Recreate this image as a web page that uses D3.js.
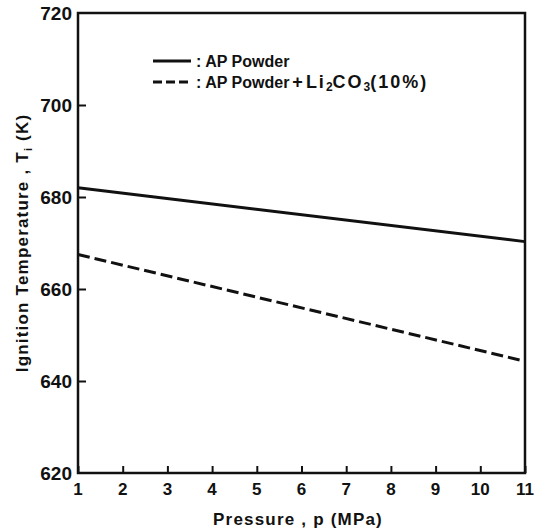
<!DOCTYPE html>
<html>
<head>
<meta charset="utf-8">
<script src="https://cdn.jsdelivr.net/npm/d3@7"></script>
<style>
  body { margin: 0; background: #fff; }
  text { font-family: 'Liberation Sans', Arial, sans-serif; font-weight: bold; fill: #111; }
</style>
</head>
<body>
<script>
var w = 545,
    h = 529;

// Data (pressure in MPa, temperature in K)
var pressure = [1, 11];
var apPowder = [682, 670.3];
var apLi2CO3 = [667.5, 644.3];

var xTicks = [1, 2, 3, 4, 5, 6, 7, 8, 9, 10, 11];
var yTicks = [620, 640, 660, 680, 700, 720];

var margin = {left: 78, right: 20, top: 13, bottom: 56};

var svg = d3.select('body')
            .append('svg')
            .attr('width', w)
            .attr('height', h);

var x = d3.scaleLinear()
          .domain([1, 11])
          .range([margin.left, w - margin.right]);

var y = d3.scaleLinear()
          .domain([620, 720])
          .range([h - margin.bottom, margin.top]);

// frame
svg.append('rect')
   .attr('x', x(1))
   .attr('y', y(720))
   .attr('width', x(11) - x(1))
   .attr('height', y(620) - y(720))
   .style('fill', 'none')
   .style('stroke', '#111')
   .style('stroke-width', 2.5);

// axes, ticks point inward
var xAxis = d3.axisTop(x)
              .tickValues(xTicks)
              .tickSize(7)
              .tickFormat('');

svg.append('g')
   .attr('transform', 'translate(0,' + y(620) + ')')
   .call(xAxis)
   .call(function(g) { g.select('.domain').remove(); })
   .selectAll('line')
   .style('stroke', '#111')
   .style('stroke-width', 2);

var yAxis = d3.axisRight(y)
              .tickValues(yTicks.slice(1, -1))
              .tickSize(8)
              .tickFormat('');

svg.append('g')
   .attr('transform', 'translate(' + x(1) + ',0)')
   .call(yAxis)
   .call(function(g) { g.select('.domain').remove(); })
   .selectAll('line')
   .style('stroke', '#111')
   .style('stroke-width', 2);

// tick labels
svg.selectAll('.xlab')
   .data(xTicks)
   .enter()
   .append('text')
   .attr('class', 'xlab')
   .attr('x', function(d) { return x(d); })
   .attr('y', y(620) + 22)
   .attr('text-anchor', 'middle')
   .style('font-size', '17px')
   .text(function(d) { return d; });

svg.selectAll('.ylab')
   .data(yTicks)
   .enter()
   .append('text')
   .attr('class', 'ylab')
   .attr('x', x(1) - 6)
   .attr('y', function(d) { return y(d) + 7; })
   .attr('text-anchor', 'end')
   .style('font-size', '19px')
   .text(function(d) { return d; });

// axis titles
svg.append('text')
   .attr('x', 298)
   .attr('y', 525)
   .attr('text-anchor', 'middle')
   .style('font-size', '17px')
   .style('letter-spacing', '1.2px')
   .text('Pressure , p (MPa)');

var ylabel = svg.append('text')
                .attr('transform', 'translate(28,' + 243 + ') rotate(-90)')
                .attr('text-anchor', 'middle')
                .style('font-size', '17px')
                .style('letter-spacing', '1.2px');
ylabel.append('tspan').text('Ignition Temperature , T');
ylabel.append('tspan').attr('dy', 4).style('font-size', '11px').text('i');
ylabel.append('tspan').attr('dy', -4).text(' (K)');

// lines
var line = d3.line()
             .x(function(d) { return x(d[0]); })
             .y(function(d) { return y(d[1]); });

svg.append('path')
   .datum(d3.zip(pressure, apPowder))
   .attr('d', line)
   .style('fill', 'none')
   .style('stroke', '#111')
   .style('stroke-width', 3);

svg.append('path')
   .datum(d3.zip(pressure, apLi2CO3))
   .attr('d', line)
   .style('fill', 'none')
   .style('stroke', '#111')
   .style('stroke-width', 3)
   .style('stroke-dasharray', '12,5');

// legend
var legend = svg.append('g')
                .attr('transform', 'translate(153,61)');

legend.append('line')
      .attr('x1', 0).attr('x2', 38)
      .attr('y1', 0).attr('y2', 0)
      .style('stroke', '#111')
      .style('stroke-width', 3);

legend.append('line')
      .attr('x1', 0).attr('x2', 38)
      .attr('y1', 21).attr('y2', 21)
      .style('stroke', '#111')
      .style('stroke-width', 3)
      .style('stroke-dasharray', '9,4');

legend.append('text')
      .attr('x', 43)
      .attr('y', 6)
      .style('font-size', '16px')
      .text(': AP Powder');

var l2 = legend.append('text')
               .attr('x', 43)
               .attr('y', 27)
               .style('font-size', '16px');
l2.append('tspan').text(': AP Powder');
l2.append('tspan').attr('dx', 3).style('font-size', '18px').text('+');
l2.append('tspan').attr('dx', 3).style('font-size', '18px').style('letter-spacing', '2px').text('Li');
l2.append('tspan').attr('dy', 3).style('font-size', '12px').text('2');
l2.append('tspan').attr('dy', -3).style('font-size', '18px').style('letter-spacing', '2px').text('CO');
l2.append('tspan').attr('dy', 3).style('font-size', '12px').text('3');
l2.append('tspan').attr('dy', -3).style('font-size', '18px').style('letter-spacing', '2px').text('(10%)');
</script>
</body>
</html>
